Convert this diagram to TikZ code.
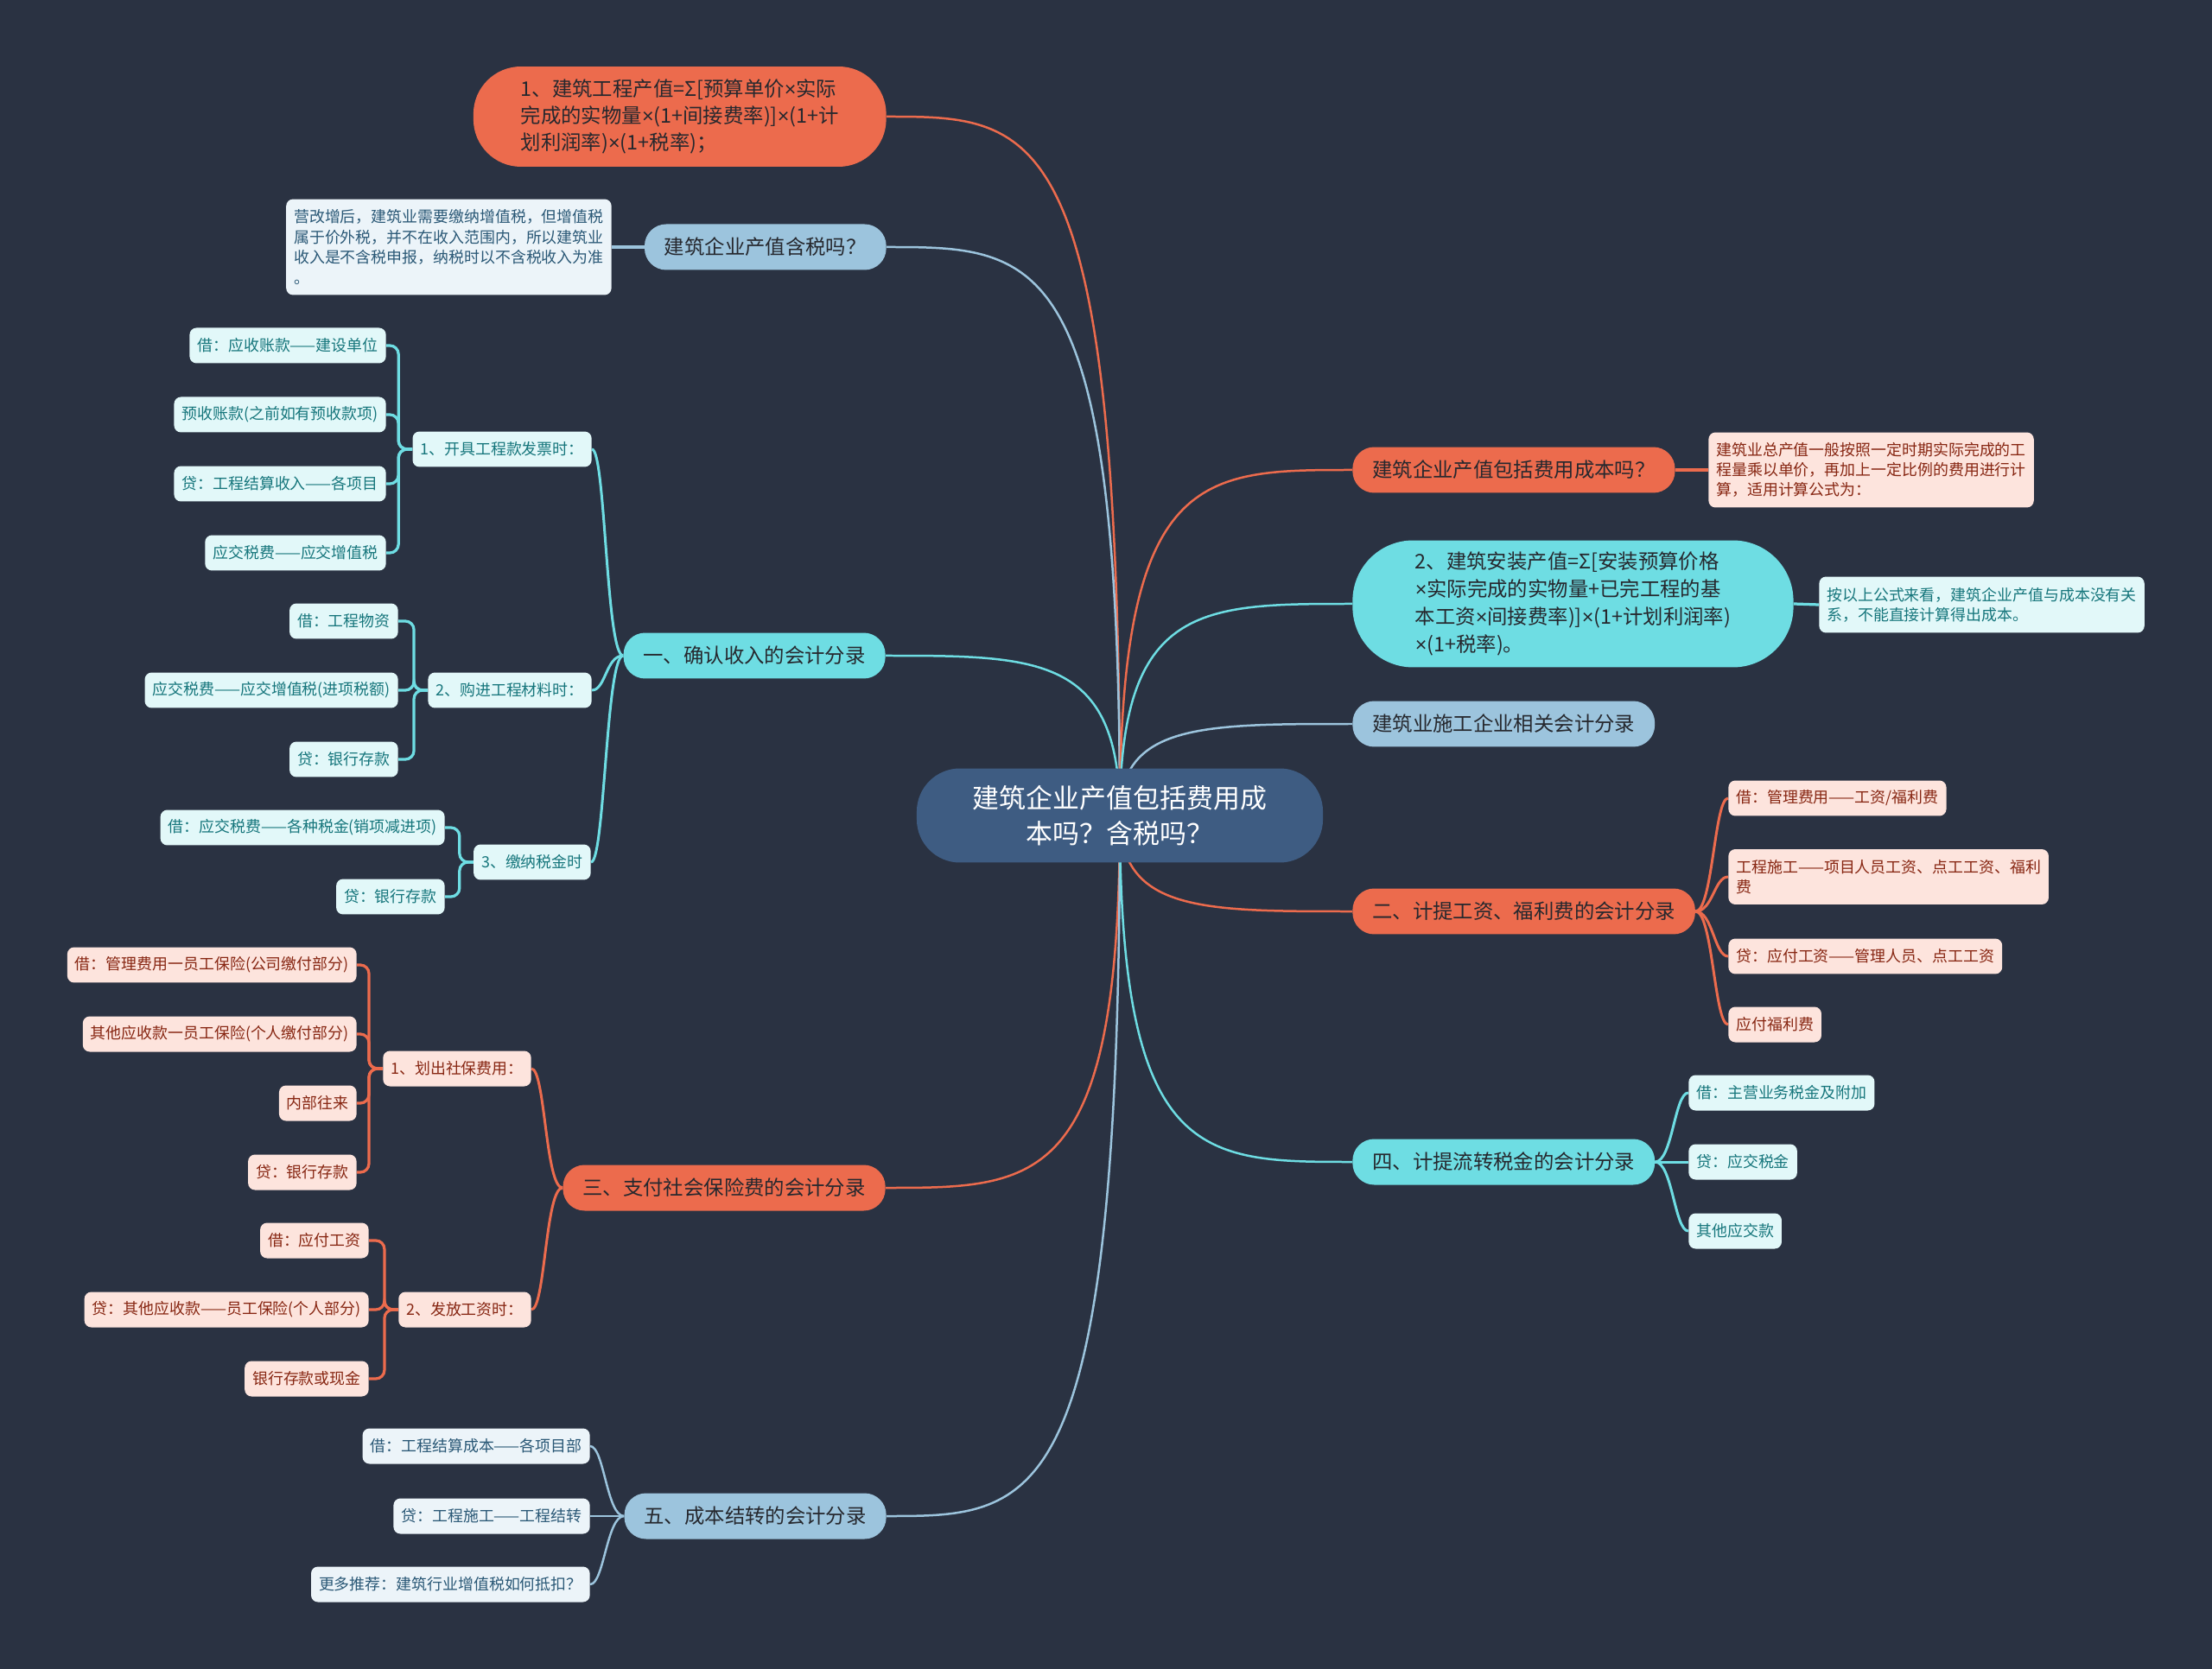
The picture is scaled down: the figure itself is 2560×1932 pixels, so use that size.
\documentclass[tikz,border=0pt]{standalone}
\usepackage{fontspec}
\usepackage{tikz}
\usepackage{xcolor}
\usetikzlibrary{positioning,calc,backgrounds}
\newfontfamily\cjk{Noto Sans CJK SC}
\newfontfamily\latinfont{Liberation Sans}
\definecolor{bgSlate}{RGB}{42,50,66}
\definecolor{rootBlue}{RGB}{62,92,130}
\definecolor{branchOrange}{RGB}{236,107,77}
\definecolor{branchCyan}{RGB}{110,221,227}
\definecolor{branchBlue}{RGB}{156,196,221}
\definecolor{inkDark}{RGB}{38,40,46}
\definecolor{leafOrange}{RGB}{253,228,221}
\definecolor{leafCyan}{RGB}{226,248,249}
\definecolor{leafBlue}{RGB}{236,244,249}
\definecolor{textOrange}{RGB}{135,38,18}
\definecolor{textCyan}{RGB}{22,118,124}
\definecolor{textBlue}{RGB}{42,88,118}
\newcommand{\rootfont}{\cjk\fontsize{17.6pt}{23.2pt}\selectfont}
\newcommand{\topicfont}{\cjk\fontsize{13.3pt}{17.8pt}\selectfont}
\newcommand{\leaffont}{\cjk\fontsize{10.2pt}{13.2pt}\selectfont}
\newcommand{\tms}{{\latinfont ×}}

\begin{document}
\begin{tikzpicture}[x=0.02cm, y=-0.02cm,
    root/.style={fill=rootBlue, text=white, font=\rootfont, rounded corners=1cm, align=center, minimum height=2.18cm, inner xsep=1.3cm},
    topic/.style={font=\topicfont, text=inkDark, rounded corners=0.5cm, minimum height=1.06cm, inner xsep=0.46cm, inner ysep=0.1cm},
    bigtopic/.style={topic, align=left, rounded corners=1.1cm},
    leaf/.style={font=\leaffont, rounded corners=0.16cm, minimum height=0.82cm, inner xsep=0.18cm, inner ysep=0.1cm, align=left},
    oleaf/.style={leaf, fill=leafOrange, text=textOrange},
    cleaf/.style={leaf, fill=leafCyan, text=textCyan},
    bleaf/.style={leaf, fill=leafBlue, text=textBlue},
    link/.style={line width=0.05cm},
    sublink/.style={line width=0.06cm},
    twig/.style={line width=0.065cm, rounded corners=0.2cm}]

    \begin{scope}[on background layer]
        \fill[bgSlate] (0,0) rectangle (2560,1932);
    \end{scope}

    \node[root] (root) at (1296,944) {建筑企业产值包括费用成\\本吗？含税吗？};

    % left side
    \node[bigtopic, fill=branchOrange, anchor=east, minimum height=2.32cm, inner xsep=1.1cm] (n1) at (1026,135)
        {1、建筑工程产值=Σ[预算单价\tms 实际\\完成的实物量\tms(1+间接费率)]\tms(1+计\\划利润率)\tms(1+税率)；};
    \node[topic, fill=branchBlue, anchor=east] (n2) at (1026,286) {建筑企业产值含税吗？};
    \node[bleaf, anchor=east, minimum height=2.22cm, font=\cjk\fontsize{10.2pt}{13.6pt}\selectfont] (n2note) at (708,286)
        {营改增后，建筑业需要缴纳增值税，但增值税\\属于价外税，并不在收入范围内，所以建筑业\\收入是不含税申报，纳税时以不含税收入为准\\。};

    \node[topic, fill=branchCyan, anchor=east] (na) at (1025,759) {一、确认收入的会计分录};
    \node[cleaf, anchor=east] (a1) at (685,520) {1、开具工程款发票时：};
    \node[cleaf, anchor=east] (a1a) at (447,400) {借：应收账款——建设单位};
    \node[cleaf, anchor=east] (a1b) at (447,480) {预收账款(之前如有预收款项)};
    \node[cleaf, anchor=east] (a1c) at (447,560) {贷：工程结算收入——各项目};
    \node[cleaf, anchor=east] (a1d) at (447,640) {应交税费——应交增值税};
    \node[cleaf, anchor=east] (a2) at (685,799) {2、购进工程材料时：};
    \node[cleaf, anchor=east] (a2a) at (461,719) {借：工程物资};
    \node[cleaf, anchor=east] (a2b) at (461,799) {应交税费——应交增值税(进项税额)};
    \node[cleaf, anchor=east] (a2c) at (461,879) {贷：银行存款};
    \node[cleaf, anchor=east] (a3) at (684,998) {3、缴纳税金时};
    \node[cleaf, anchor=east] (a3a) at (515,958) {借：应交税费——各种税金(销项减进项)};
    \node[cleaf, anchor=east] (a3b) at (515,1038) {贷：银行存款};

    \node[topic, fill=branchOrange, anchor=east] (nb) at (1025,1375) {三、支付社会保险费的会计分录};
    \node[oleaf, anchor=east] (b1) at (615,1237) {1、划出社保费用：};
    \node[oleaf, anchor=east] (b1a) at (413,1117) {借：管理费用一员工保险(公司缴付部分)};
    \node[oleaf, anchor=east] (b1b) at (413,1197) {其他应收款一员工保险(个人缴付部分)};
    \node[oleaf, anchor=east] (b1c) at (413,1277) {内部往来};
    \node[oleaf, anchor=east] (b1d) at (413,1357) {贷：银行存款};
    \node[oleaf, anchor=east] (b2) at (615,1516) {2、发放工资时：};
    \node[oleaf, anchor=east] (b2a) at (427,1436) {借：应付工资};
    \node[oleaf, anchor=east] (b2b) at (427,1516) {贷：其他应收款——员工保险(个人部分)};
    \node[oleaf, anchor=east] (b2c) at (427,1596) {银行存款或现金};

    \node[topic, fill=branchBlue, anchor=east] (nc) at (1026,1755) {五、成本结转的会计分录};
    \node[bleaf, anchor=east] (ca) at (683,1674) {借：工程结算成本——各项目部};
    \node[bleaf, anchor=east] (cb) at (683,1755) {贷：工程施工——工程结转};
    \node[bleaf, anchor=east] (cc) at (683,1834) {更多推荐：建筑行业增值税如何抵扣？};

    % right side
    \node[topic, fill=branchOrange, anchor=west] (r1) at (1565,544) {建筑企业产值包括费用成本吗？};
    \node[oleaf, anchor=west, minimum height=1.74cm] (r1note) at (1977,544)
        {建筑业总产值一般按照一定时期实际完成的工\\程量乘以单价，再加上一定比例的费用进行计\\算，适用计算公式为：};
    \node[bigtopic, fill=branchCyan, anchor=west, minimum height=2.94cm, inner xsep=1.45cm, rounded corners=1.4cm,
        font=\cjk\fontsize{13.3pt}{18.2pt}\selectfont] (r2) at (1565,699)
        {2、建筑安装产值=Σ[安装预算价格\\\tms 实际完成的实物量+已完工程的基\\本工资\tms 间接费率)]\tms(1+计划利润率)\\\tms(1+税率)。};
    \node[cleaf, anchor=west, minimum height=1.3cm] (r2note) at (2105,700)
        {按以上公式来看，建筑企业产值与成本没有关\\系，不能直接计算得出成本。};
    \node[topic, fill=branchBlue, anchor=west] (r3) at (1565,838) {建筑业施工企业相关会计分录};

    \node[topic, fill=branchOrange, anchor=west] (r4) at (1565,1055) {二、计提工资、福利费的会计分录};
    \node[oleaf, anchor=west] (r4a) at (2000,924) {借：管理费用——工资/福利费};
    \node[oleaf, anchor=west, minimum height=1.28cm] (r4b) at (2000,1015) {工程施工——项目人员工资、点工工资、福利\\费};
    \node[oleaf, anchor=west] (r4c) at (2000,1107) {贷：应付工资——管理人员、点工工资};
    \node[oleaf, anchor=west] (r4d) at (2000,1186) {应付福利费};

    \node[topic, fill=branchCyan, anchor=west] (r5) at (1565,1345) {四、计提流转税金的会计分录};
    \node[cleaf, anchor=west] (r5a) at (1954,1265) {借：主营业务税金及附加};
    \node[cleaf, anchor=west] (r5b) at (1954,1345) {贷：应交税金};
    \node[cleaf, anchor=west] (r5c) at (1954,1425) {其他应交款};

    \begin{scope}[on background layer]
        \foreach \t/\a/\c in {n1/east/branchOrange, n2/east/branchBlue, na/east/branchCyan, nb/east/branchOrange,
            nc/east/branchBlue, r1/west/branchOrange, r2/west/branchCyan, r3/west/branchBlue,
            r4/west/branchOrange, r5/west/branchCyan}
            \draw[link, \c] (root.center) .. controls (root.center |- \t.\a)
                and ($(root.center |- \t.\a)!0.35!(\t.\a)$) .. (\t.\a);

        \draw[twig, branchBlue] (n2.west) -- (n2note.east);
        \draw[twig, branchOrange] (r1.east) -- (r1note.west);
        \draw[twig, branchCyan] (r2.east) -- (r2note.west);

        \foreach \k in {a1,a2,a3}
            \draw[sublink, branchCyan] (na.west) .. controls +(-20,0) and +(16,0) .. (\k.east);
        \foreach \k in {b1,b2}
            \draw[sublink, branchOrange] (nb.west) .. controls +(-20,0) and +(16,0) .. (\k.east);
        \foreach \k in {ca,cb,cc}
            \draw[link, branchBlue] (nc.west) .. controls +(-20,0) and +(16,0) .. (\k.east);
        \foreach \k in {r4a,r4b,r4c,r4d}
            \draw[sublink, branchOrange] (r4.east) .. controls +(20,0) and +(-16,0) .. (\k.west);
        \foreach \k in {r5a,r5b,r5c}
            \draw[sublink, branchCyan] (r5.east) .. controls +(20,0) and +(-16,0) .. (\k.west);

        \foreach \p/\k in {a1/a1a, a1/a1b, a1/a1c, a1/a1d, a2/a2a, a2/a2b, a2/a2c, a3/a3a, a3/a3b}
            \draw[twig, branchCyan] (\p.west) -- ++(-16,0) |- (\k.east);
        \foreach \p/\k in {b1/b1a, b1/b1b, b1/b1c, b1/b1d, b2/b2a, b2/b2b, b2/b2c}
            \draw[twig, branchOrange] (\p.west) -- ++(-16,0) |- (\k.east);
    \end{scope}
\end{tikzpicture}
\end{document}
